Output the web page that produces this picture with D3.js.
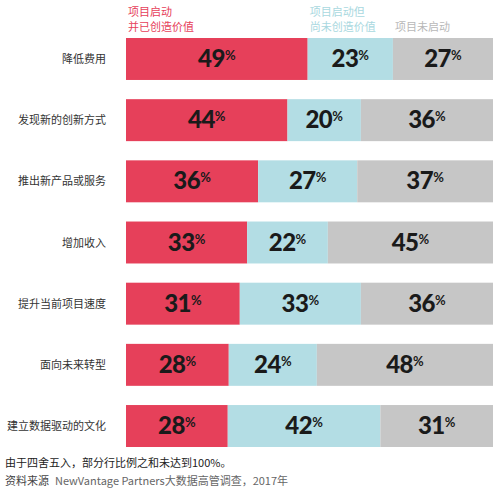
<!DOCTYPE html>
<html>
<head>
<meta charset="utf-8">
<script src="https://cdn.jsdelivr.net/npm/d3@7"></script>
<style>
  body { margin: 0; background: #fff; }
  svg { display: block; font-family: "Noto Sans CJK SC", "Noto Sans", sans-serif; }
</style>
</head>
<body>
<div id="chart"></div>
<script>
// Rows, top to bottom
const categories = ["降低费用", "发现新的创新方式", "推出新产品或服务", "增加收入", "提升当前项目速度", "面向未来转型", "建立数据驱动的文化"];
const createdValue = [49, 44, 36, 33, 31, 28, 28];
const notYetValue = [23, 20, 27, 22, 33, 24, 42];
const notStarted = [27, 36, 37, 45, 36, 48, 31];
const seriesNames = [["项目启动", "并已创造价值"], ["项目启动但", "尚未创造价值"], ["项目未启动"]];
const colors = ["#e6405a", "#b3dde4", "#c6c6c6"];
const legendColors = ["#e6405a", "#a9d8e0", "#b8b8b8"];
const footnote = "由于四舍五入，部分行比例之和未达到100%。";
const sourceLabel = "资料来源";
const sourceText = "NewVantage Partners大数据高管调查，2017年";

const width = 499, height = 498;
const left = 126, right = 493;

const svg = d3.select("#chart").append("svg").attr("width", width).attr("height", height);

const y = d3.scaleBand().domain(categories).range([38, 447]).paddingInner(0.314).paddingOuter(0);

// each row is stretched to the full width (rows don't sum to exactly 100)
const rows = categories.map((c, i) => {
  const vals = [createdValue[i], notYetValue[i], notStarted[i]];
  const x = d3.scaleLinear().domain([0, d3.sum(vals)]).range([left, right]);
  let acc = 0;
  const segs = vals.map((v, k) => {
    const s = {cat: c, k, v, x0: x(acc), x1: x(acc + v)};
    acc += v;
    return s;
  });
  return {cat: c, segs};
});

const g = svg.append("g");
const row = g.selectAll("g.row").data(rows).join("g").attr("class", "row");

row.selectAll("rect")
  .data(d => d.segs)
  .join("rect")
  .attr("x", d => d.x0)
  .attr("width", d => d.x1 - d.x0)
  .attr("y", d => y(d.cat))
  .attr("height", y.bandwidth())
  .attr("fill", d => colors[d.k]);

const num = row.selectAll("text.num")
  .data(d => d.segs)
  .join("text")
  .attr("class", "num")
  .attr("x", d => (d.x0 + d.x1) / 2)
  .attr("y", d => y(d.cat) + y.bandwidth() / 2 + 8)
  .attr("text-anchor", "middle")
  .attr("fill", "#1a1a1a");
num.append("tspan")
  .attr("font-family", "Lato, Inter, sans-serif")
  .attr("font-weight", 900)
  .attr("font-size", 24)
  .attr("letter-spacing", -0.5)
  .text(d => d.v);
num.append("tspan")
  .attr("font-family", "Lato, sans-serif")
  .attr("font-weight", 700)
  .attr("font-size", 13)
  .attr("dy", -7)
  .text("%");

// category labels
g.selectAll("text.cat")
  .data(categories)
  .join("text")
  .attr("class", "cat")
  .attr("x", 106)
  .attr("y", d => y(d) + y.bandwidth() / 2 + 4)
  .attr("text-anchor", "end")
  .attr("font-size", 11)
  .attr("fill", "#333")
  .text(d => d);

// legend over the first row's segments
const first = rows[0].segs;
seriesNames.forEach((lines, k) => {
  const t = svg.append("text")
    .attr("x", first[k].x0 + 2)
    .attr("font-size", 11)
    .attr("fill", legendColors[k]);
  lines.forEach((ln, j) => {
    t.append("tspan")
      .attr("x", first[k].x0 + 2)
      .attr("y", 31 - (lines.length - 1 - j) * 15)
      .text(ln);
  });
});

// notes
svg.append("text")
  .attr("x", 5).attr("y", 467)
  .attr("font-size", 11).attr("fill", "#222")
  .text(footnote);
const src = svg.append("text").attr("x", 5).attr("y", 485).attr("font-size", 11);
src.append("tspan").attr("fill", "#444").text(sourceLabel);
src.append("tspan").attr("fill", "#666").attr("dx", 6).text(sourceText);
</script>
</body>
</html>
